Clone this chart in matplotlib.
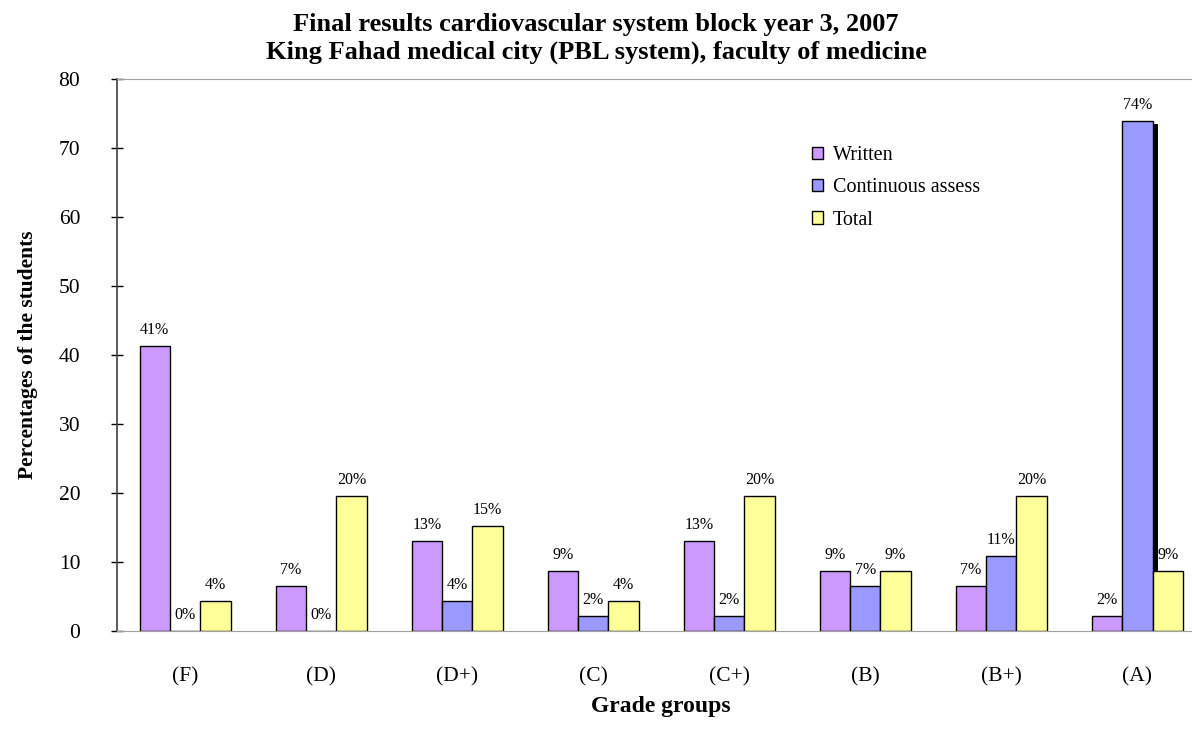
import numpy as np
import matplotlib.pyplot as plt
import matplotlib.patheffects as pe

plt.rcParams['font.family'] = ['Liberation Serif', 'DejaVu Serif']

grades = ["(F)", "(D)", "(D+)", "(C)", "(C+)", "(B)", "(B+)", "(A)"]
written = [41.30, 6.52, 13.04, 8.70, 13.04, 8.70, 6.52, 2.17]
continuous = [0.0, 0.0, 4.35, 2.17, 2.17, 6.52, 10.87, 73.91]
total = [4.35, 19.57, 15.22, 4.35, 19.57, 8.70, 19.57, 8.70]

title_lines = ["Final results cardiovascular system block year 3, 2007",
               "King Fahad medical city (PBL system), faculty of medicine"]

COLORS = ["#CC99FF", "#9999FF", "#FFFF99"]
W = 0.223


def main():
    fig = plt.figure(figsize=(11.92, 7.30), dpi=100)
    ax = fig.add_axes([0.0982, 0.1356, 0.913, 0.756])

    x = np.arange(len(grades))
    series = [("Written", written), ("Continuous assess", continuous), ("Total", total)]
    containers = []
    for i, (name, vals) in enumerate(series):
        bars = ax.bar(x + (i - 1) * W, vals, W, color=COLORS[i], edgecolor="black",
                      linewidth=1.0, label=name, zorder=3)
        containers.append(bars)

    # the highlighted bar in (A) has a black drop shadow
    big = containers[1][len(grades) - 1]
    big.set_path_effects([pe.SimplePatchShadow(offset=(3.6, -2.2), shadow_rgbFace="black", alpha=1.0),
                          pe.Normal()])

    for bars in containers:
        ax.bar_label(bars, fmt="%.0f%%", padding=6, fontsize=11.5, zorder=5)

    ax.set_xlim(-0.5, len(grades) - 0.5)
    ax.set_ylim(0, 80)
    ax.set_yticks(range(0, 81, 10))
    ax.set_xticks(x)
    ax.set_xticklabels(grades)
    ax.tick_params(axis="y", direction="inout", length=9, width=1, pad=22, labelsize=15.5)
    ax.tick_params(axis="x", length=0, pad=26, labelsize=15.5)

    ax.spines["left"].set_color("#404040")
    ax.spines["left"].set_linewidth(1.2)
    ax.spines["top"].set_color("#a0a0a0")
    ax.spines["bottom"].set_color("#a0a0a0")
    ax.spines["right"].set_visible(False)

    ax.set_ylabel("Percentages of the students", fontsize=15.5, fontweight="bold", labelpad=15)
    ax.set_xlabel("Grade groups", fontsize=17, fontweight="bold", labelpad=7)

    fig.text(0.5, 1 - 31 / 730, title_lines[0], ha="center", va="baseline",
             fontsize=19, fontweight="bold")
    fig.text(0.5, 1 - 59 / 730, title_lines[1], ha="center", va="baseline",
             fontsize=19, fontweight="bold")

    ax.legend(loc="upper left", bbox_to_anchor=(0.681, 0.8), bbox_transform=fig.transFigure,
              frameon=False, fontsize=14.5, handlelength=0.55, handleheight=0.55,
              handletextpad=0.5, labelspacing=0.66, borderaxespad=0, borderpad=0)

    fig.savefig("out.png", dpi=100)


if __name__ == "__main__":
    main()
